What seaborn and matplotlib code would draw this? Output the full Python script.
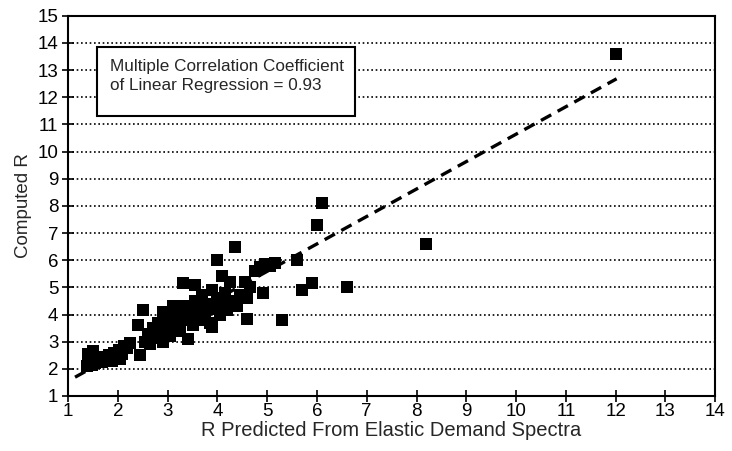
import matplotlib
matplotlib.use("Agg")
import matplotlib.pyplot as plt
import seaborn as sns
import numpy as np
import pandas as pd
from matplotlib.patches import Rectangle

# R predicted from elastic demand spectra (x) vs computed R (y)
r_predicted = [
    1.38, 1.42, 1.48, 1.52, 1.55, 1.60, 1.62, 1.68, 1.72, 1.78, 1.82, 1.88, 1.92, 1.98,
    2.02, 2.08, 2.12, 2.18, 2.25, 2.05, 1.45, 1.40, 1.50,
    2.40, 2.50, 2.45, 2.55, 2.60, 2.65, 2.70, 2.75, 2.80, 2.85, 2.90, 2.95, 3.00, 3.05,
    3.10, 3.15, 3.20, 3.25, 3.30, 3.35, 3.30, 3.40, 3.45, 3.50, 3.55, 3.55, 3.60, 3.65,
    3.70, 3.75, 3.80, 3.85, 3.90, 3.90, 3.95, 4.00, 4.00, 4.05, 4.10, 4.10, 4.15, 4.20,
    4.25, 4.30, 4.35, 4.40, 4.45, 4.55, 4.60, 4.60, 4.65, 4.75, 4.85, 4.92, 4.95, 5.05,
    5.15, 5.30, 5.60, 5.70, 5.90, 6.00, 6.10, 6.60, 8.20, 12.00,
    2.90, 3.10, 3.35, 3.60, 3.00, 2.70, 3.20,
]
r_computed = [
    2.10, 2.25, 2.15, 2.35, 2.20, 2.30, 2.45, 2.25, 2.40, 2.35, 2.50, 2.30, 2.60, 2.45,
    2.70, 2.55, 2.85, 2.75, 2.95, 2.35, 2.40, 2.55, 2.65,
    3.60, 4.15, 2.50, 3.00, 3.30, 2.90, 3.50, 3.15, 3.70, 3.40, 3.00, 3.85, 3.50, 3.20,
    3.90, 3.60, 4.10, 3.40, 3.80, 4.30, 5.15, 3.10, 4.00, 3.60, 4.50, 5.10, 4.20, 3.80,
    4.70, 4.00, 4.40, 3.70, 3.55, 4.90, 4.20, 6.00, 4.60, 4.00, 5.40, 4.40, 4.80, 4.15,
    5.20, 4.50, 6.50, 4.30, 4.70, 5.20, 4.60, 3.85, 5.00, 5.60, 5.75, 4.80, 5.85, 5.80,
    5.90, 3.80, 6.00, 4.90, 5.15, 7.30, 8.10, 5.00, 6.60, 13.60,
    4.10, 4.30, 3.90, 4.00, 3.30, 3.30, 3.70,
]
# regression line as drawn in the figure
fit_slope = 1.01
fit_intercept = 0.54
fit_range = [1.14, 12.02]
annotation = "Multiple Correlation Coefficient\nof Linear Regression = 0.93"

df = pd.DataFrame({"pred": r_predicted, "comp": r_computed})

sns.set_theme(style="ticks")
plt.rcParams["font.family"] = ["Liberation Sans", "DejaVu Sans"]

fig = plt.figure(figsize=(7.32, 4.51), dpi=100)
ax = fig.add_axes([0.093, 0.122, 0.884, 0.843])

# dotted horizontal grid
for yv in range(2, 15):
    ax.axhline(yv, color="black", lw=1.2, ls=(0, (1, 1.6)), zorder=0)

sns.scatterplot(data=df, x="pred", y="comp", ax=ax, marker="s", s=70,
                color="black", edgecolor="black", linewidth=0, zorder=3)

xs = np.array(fit_range)
ax.plot(xs, fit_slope * xs + fit_intercept, color="black", lw=2.4,
        ls=(0, (3.5, 2.2)), zorder=4)

# annotation box
ax.add_patch(Rectangle((0.045, 0.737), 0.399, 0.181, transform=ax.transAxes,
                       fc="white", ec="black", lw=1.5, zorder=5))
ax.text(0.065, 0.887, annotation, transform=ax.transAxes, fontsize=12.3, va="top",
        ha="left", linespacing=1.35, zorder=6)

ax.set_xlim(1, 14)
ax.set_ylim(1, 15)
ax.set_xticks(range(1, 15))
ax.set_yticks(range(1, 16))
ax.tick_params(direction="inout", length=8, width=1.2, labelsize=13.5, colors="black")
ax.tick_params(axis="x", pad=1)
ax.tick_params(axis="y", pad=3)
for sp in ax.spines.values():
    sp.set_visible(True)
    sp.set_color("black")
    sp.set_linewidth(1.5)
ax.set_xlabel("R Predicted From Elastic Demand Spectra", fontsize=14.5, labelpad=1)
ax.set_ylabel("Computed R", fontsize=13.5, labelpad=4)

fig.savefig("out.png", dpi=100)
